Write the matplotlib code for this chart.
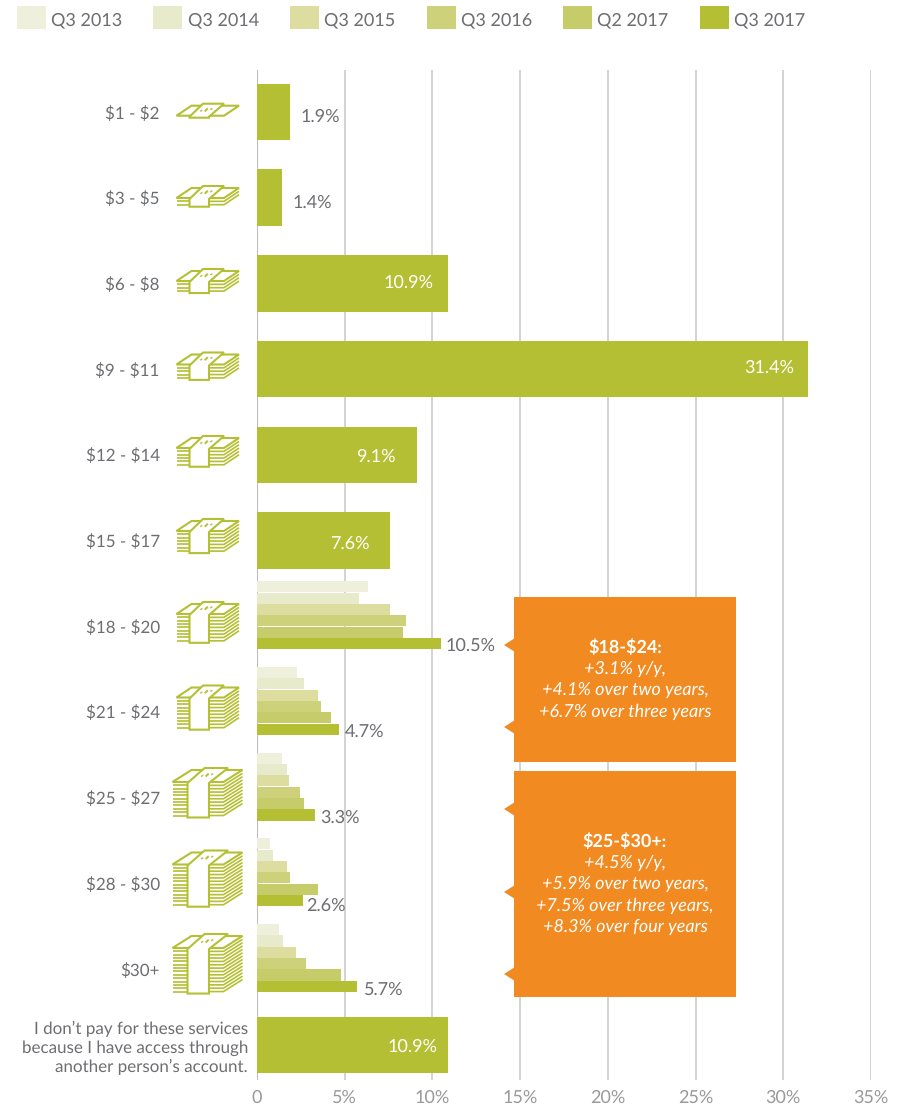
import numpy as np
import matplotlib
matplotlib.use('Agg')
import matplotlib.pyplot as plt
from matplotlib.patches import Polygon
from matplotlib.lines import Line2D
from matplotlib.transforms import Affine2D

plt.rcParams['font.family'] = ['Lato', 'DejaVu Sans']
plt.rcParams['text.parse_math'] = False  # labels are full of dollar signs
plt.rcParams['text.hinting'] = 'no_hinting'
plt.rcParams['text.hinting_factor'] = 1

categories = ['$1 - $2', '$3 - $5', '$6 - $8', '$9 - $11', '$12 - $14', '$15 - $17',
              '$18 - $20', '$21 - $24', '$25 - $27', '$28 - $30', '$30+',
              'I don\u2019t pay for these services\nbecause I have access through\nanother person\u2019s account.']
q3_2017 = [1.9, 1.4, 10.9, 31.4, 9.1, 7.6, 10.5, 4.7, 3.3, 2.6, 5.7, 10.9]

# older waves only exist for the top price bands
trend_rows = [6, 7, 8, 9, 10]
q3_2013 = [6.3, 2.3, 1.4, 0.75, 1.25]
q3_2014 = [5.8, 2.7, 1.7, 0.9, 1.5]
q3_2015 = [7.6, 3.5, 1.8, 1.7, 2.2]
q3_2016 = [8.5, 3.65, 2.45, 1.9, 2.8]
q2_2017 = [8.3, 4.2, 2.7, 3.5, 4.8]

older_names = ['Q3 2013', 'Q3 2014', 'Q3 2015', 'Q3 2016', 'Q2 2017']
older_values = [q3_2013, q3_2014, q3_2015, q3_2016, q2_2017]
older_colors = ['#eef0dc', '#e8ebcb', '#dcdd9f', '#cdd17a', '#c7cc6a']
green = '#b5bf33'
orange = '#f18a21'
text_grey = '#6d6e71'

x_ticks = [0, 5, 10, 15, 20, 25, 30, 35]
x_tick_labels = ['0', '5%', '10%', '15%', '20%', '25%', '30%', '35%']

# stack height of the money icon on each row (last row has none)
icon_layers = [0, 2, 3, 4, 5, 6, 8, 9, 10, 12, 13]
icon_tops = [103.7, 186, 269, 352.5, 436, 519, 602, 685.5, 768, 850.5, 934]

# per label tweak of the value text, in pixels from the bar end / bar centre
label_dx = [10, 11, -15, -14, -21, -21, 4.5, 5, 5.5, 4, 7, -11]
label_dy = [3, 4, -2, -3, 0, 2, 1, 1, 1, 3.5, 1.5, 0]

W, H = 907, 1104
fig = plt.figure(figsize=(W / 100, H / 100), dpi=100)
left, right, top, bottom = 257, 871, 70, 1080
ax = fig.add_axes([left / W, 1 - bottom / H, (right - left) / W, (bottom - top) / H])
ax.set_xlim(0, 35)
ax.set_ylim(bottom, top)  # y axis runs in pixels from the top

# pixel coordinates, origin top left
px = Affine2D().scale(1, -1).translate(0, H)

row_y = 112 + 85.7 * np.arange(12)
row_y[11] = 1045
thin = 11.33
group_top = -45

handles = []
for k in range(5):
    ys = [row_y[r] + group_top + thin * (k + 0.5) for r in trend_rows]
    b = ax.barh(ys, older_values[k], height=thin - 0.3, color=older_colors[k], zorder=3, label=older_names[k])
    handles.append(b)

ys = []
heights = []
for r in range(12):
    if r in trend_rows:
        ys.append(row_y[r] + group_top + thin * 5.5)
        heights.append(thin)
    else:
        ys.append(row_y[r])
        heights.append(56.5)
b = ax.barh(ys, q3_2017, height=heights, color=green, zorder=3, label='Q3 2017')
handles.append(b)

# value labels: inside the long bars, beside the short ones
for r, v in enumerate(q3_2017):
    inside = label_dx[r] < 0
    ax.annotate('%.1f%%' % v, (v, ys[r]), xytext=(label_dx[r] * 0.72, -label_dy[r] * 0.72),
                textcoords='offset points', ha='right' if inside else 'left', va='center_baseline',
                color='white' if inside else text_grey, fontsize=13, zorder=4)

ax.set_xticks(x_ticks, x_tick_labels, color='#9a9a9a', fontsize=13)
ax.tick_params(axis='x', length=0, pad=7)
ax.set_yticks(row_y, categories, color=text_grey, fontsize=12.4)
ax.tick_params(axis='y', length=0)
for i, t in enumerate(ax.yaxis.get_major_ticks()):
    t.set_pad(70 if i < 11 else 6.5)
    t.label1.set_multialignment('right')
    t.label1.set_linespacing(1.3)
ax.yaxis.get_major_ticks()[11].label1.set_fontsize(12.6)
ax.yaxis.get_major_ticks()[11].label1.set_linespacing(1.25)

ax.grid(axis='x', color='#d0d0d0', lw=1.3, zorder=0)
ax.set_axisbelow(True)
for s in ax.spines.values():
    s.set_visible(False)
ax.axvline(0, color='#bdbdbd', lw=1.5, zorder=1)

leg = ax.legend(handles=handles, ncol=6, loc='upper left', bbox_to_anchor=(-0.391, 1.0635),
                frameon=False, fontsize=13, labelcolor=text_grey, handlelength=1.6, handleheight=1.6,
                handletextpad=0.3, columnspacing=1.72, borderpad=0, borderaxespad=0)
for t in leg.get_texts():
    t.set_y(-2)


def draw_line(xs, ys, lw=1.5):
    fig.add_artist(Line2D(xs, ys, color=green, lw=lw, transform=px, solid_joinstyle='miter',
                          solid_capstyle='butt', zorder=2))


def money_icon(cy_top, layers, big):
    # stack of notes: flat top sheet, wrapper strap, layer lines underneath
    if big:
        L, R, s1, s2, dx, dy = 172.5, 242.5, 187.5, 209, 19, 12
    else:
        L, R, s1, s2, dx, dy = 176.5, 239, 189.5, 209, 15, 10
    t = cy_top + 2
    base = t + dy
    for n in range(1, layers + 1):
        y = base + n * 3.35
        draw_line([L, s1], [y, y], 1.2)
        draw_line([s2, R - dx, R], [y, y, y - dy], 1.2)
    fig.add_artist(Polygon([(L, base), (L + dx, t), (R, t), (R - dx, base)], closed=True, fc='white',
                           ec=green, lw=1.5, transform=px, zorder=2))
    low = base + layers * 3.35 + 2
    mid = 0.5 * (s1 + s2)
    strap = [(s1 + dx * 0.9, t - 2), (s2 + dx, t - 2), (s2, base + 1), (s2, low), (s1, low), (s1, base + 1)]
    fig.add_artist(Polygon(strap, closed=True, fc='white', ec=green, lw=1.5, transform=px, zorder=2))
    # little dollar mark on the strap
    cx, cy = mid + dx * 0.47, t + dy * 0.42
    draw_line([cx - 6, cx - 4], [cy + 1.5, cy + 0.2], 1)
    draw_line([cx - 1.5, cx + 1.5], [cy + 1.5, cy - 1.5], 1.4)
    draw_line([cx + 4, cx + 6], [cy - 0.2, cy - 1.5], 1)


for r, n in enumerate(icon_layers):
    money_icon(icon_tops[r], n, r >= 8)


def callout(y0, y1, notches, lines, first_y):
    x0, x1 = 514, 736
    fig.add_artist(Polygon([(x0, y0), (x1, y0), (x1, y1), (x0, y1)], closed=True, fc=orange, ec='none',
                           transform=px, zorder=5))
    for ny in notches:
        fig.add_artist(Polygon([(x0 + 1, ny - 7), (504, ny), (x0 + 1, ny + 7)], closed=True, fc=orange, ec='none',
                               transform=px, zorder=5))
    for i, line in enumerate(lines):
        fig.text(625, first_y + i * 21.3, line, transform=px, ha='center', va='center_baseline', color='white',
                 fontsize=12.7, fontweight='bold' if i == 0 else 'normal',
                 fontstyle='normal' if i == 0 else 'italic', zorder=6)


callout(597, 762, [645, 727],
        ['$18-$24:', '+3.1% y/y,', '+4.1% over two years,', '+6.7% over three years'], 646)
callout(771, 997, [809, 892, 974],
        ['$25-$30+:', '+4.5% y/y,', '+5.9% over two years,', '+7.5% over three years,', '+8.3% over four years'], 840)

fig.savefig('out.png', dpi=100)
